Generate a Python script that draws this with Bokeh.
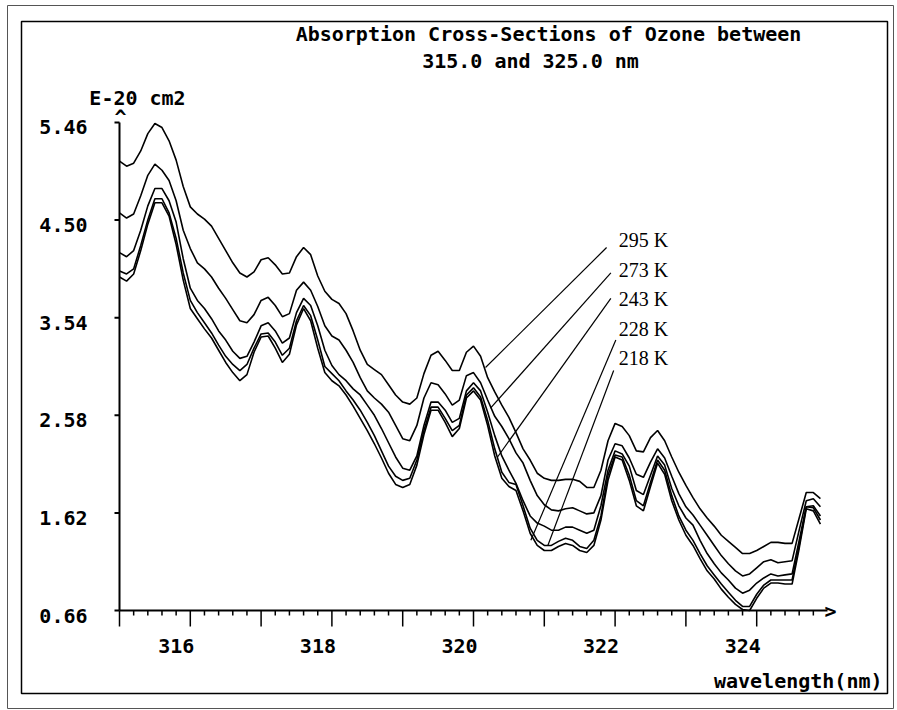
from bokeh.plotting import figure
from bokeh.models import ColumnDataSource, Range1d
from bokeh.core.properties import value
from bokeh.embed import file_html
from bokeh.resources import INLINE

# ---------------- data ----------------
wavelength = [
    315.0, 315.1, 315.2, 315.3, 315.4, 315.5, 315.6, 315.7, 315.8, 315.9,
    316.0, 316.1, 316.2, 316.3, 316.4, 316.5, 316.6, 316.7, 316.8, 316.9,
    317.0, 317.1, 317.2, 317.3, 317.4, 317.5, 317.6, 317.7, 317.8, 317.9,
    318.0, 318.1, 318.2, 318.3, 318.4, 318.5, 318.6, 318.7, 318.8, 318.9,
    319.0, 319.1, 319.2, 319.3, 319.4, 319.5, 319.6, 319.7, 319.8, 319.9,
    320.0, 320.1, 320.2, 320.3, 320.4, 320.5, 320.6, 320.7, 320.8, 320.9,
    321.0, 321.1, 321.2, 321.3, 321.4, 321.5, 321.6, 321.7, 321.8, 321.9,
    322.0, 322.1, 322.2, 322.3, 322.4, 322.5, 322.6, 322.7, 322.8, 322.9,
    323.0, 323.1, 323.2, 323.3, 323.4, 323.5, 323.6, 323.7, 323.8, 323.9,
    324.0, 324.1, 324.2, 324.3, 324.4, 324.5, 324.6, 324.7, 324.8, 324.9,
]

xs_295K = [
    5.08, 5.03, 5.06, 5.18, 5.35, 5.45, 5.41, 5.28, 5.09, 4.83,
    4.63, 4.56, 4.51, 4.44, 4.32, 4.20, 4.08, 3.98, 3.94, 3.99,
    4.11, 4.13, 4.06, 3.97, 3.98, 4.14, 4.23, 4.16, 3.95, 3.80,
    3.72, 3.68, 3.58, 3.41, 3.22, 3.08, 3.03, 2.98, 2.88, 2.78,
    2.71, 2.69, 2.75, 2.99, 3.17, 3.21, 3.12, 3.02, 3.02, 3.20,
    3.26, 3.16, 2.95, 2.81, 2.68, 2.56, 2.41, 2.25, 2.14, 2.01,
    1.96, 1.94, 1.94, 1.95, 1.95, 1.93, 1.87, 1.87, 2.04, 2.33,
    2.50, 2.47, 2.38, 2.23, 2.22, 2.36, 2.43, 2.33, 2.17, 2.02,
    1.89, 1.77, 1.66, 1.57, 1.49, 1.40, 1.34, 1.28, 1.22, 1.22,
    1.25, 1.29, 1.33, 1.33, 1.32, 1.32, 1.57, 1.82, 1.82, 1.76,
]
xs_273K = [
    4.57, 4.52, 4.56, 4.74, 4.94, 5.05, 4.99, 4.89, 4.69, 4.40,
    4.22, 4.08, 4.02, 3.94, 3.83, 3.73, 3.62, 3.51, 3.49, 3.57,
    3.71, 3.74, 3.66, 3.55, 3.58, 3.81, 3.89, 3.81, 3.65, 3.46,
    3.36, 3.32, 3.22, 3.10, 2.95, 2.82, 2.75, 2.69, 2.61, 2.48,
    2.35, 2.33, 2.48, 2.75, 2.90, 2.88, 2.79, 2.68, 2.73, 2.97,
    3.00, 2.90, 2.73, 2.57, 2.47, 2.35, 2.21, 2.11, 1.94, 1.79,
    1.70, 1.65, 1.64, 1.66, 1.67, 1.64, 1.61, 1.62, 1.79, 2.14,
    2.30, 2.28, 2.16, 2.00, 1.97, 2.12, 2.25, 2.16, 1.98, 1.81,
    1.68, 1.60, 1.50, 1.40, 1.30, 1.20, 1.12, 1.05, 1.00, 1.02,
    1.08, 1.14, 1.16, 1.13, 1.14, 1.15, 1.45, 1.74, 1.76, 1.68,
]
xs_243K = [
    4.18, 4.14, 4.20, 4.40, 4.64, 4.81, 4.81, 4.69, 4.48, 4.12,
    3.83, 3.71, 3.63, 3.53, 3.41, 3.32, 3.21, 3.14, 3.16, 3.30,
    3.46, 3.49, 3.41, 3.29, 3.34, 3.59, 3.73, 3.66, 3.46, 3.22,
    3.07, 2.98, 2.92, 2.84, 2.78, 2.68, 2.58, 2.45, 2.31, 2.17,
    2.06, 2.04, 2.18, 2.48, 2.71, 2.71, 2.63, 2.51, 2.55, 2.82,
    2.90, 2.82, 2.61, 2.38, 2.18, 2.04, 1.91, 1.74, 1.59, 1.52,
    1.49, 1.45, 1.45, 1.48, 1.48, 1.45, 1.42, 1.45, 1.69, 2.04,
    2.23, 2.20, 2.08, 1.84, 1.80, 1.99, 2.18, 2.09, 1.86, 1.69,
    1.57, 1.50, 1.35, 1.22, 1.12, 1.03, 0.96, 0.88, 0.83, 0.86,
    0.93, 0.98, 1.02, 1.00, 1.01, 1.02, 1.35, 1.68, 1.69, 1.59,
]
xs_228K = [
    4.00, 3.97, 4.02, 4.25, 4.50, 4.71, 4.71, 4.57, 4.32, 3.98,
    3.71, 3.59, 3.49, 3.39, 3.27, 3.16, 3.08, 3.02, 3.08, 3.24,
    3.38, 3.39, 3.30, 3.17, 3.24, 3.51, 3.66, 3.56, 3.32, 3.06,
    2.99, 2.92, 2.82, 2.73, 2.63, 2.51, 2.38, 2.23, 2.08, 1.98,
    1.94, 1.96, 2.14, 2.43, 2.66, 2.66, 2.55, 2.43, 2.48, 2.78,
    2.85, 2.76, 2.53, 2.25, 2.02, 1.92, 1.90, 1.69, 1.47, 1.35,
    1.30, 1.30, 1.34, 1.37, 1.35, 1.29, 1.27, 1.35, 1.59, 1.99,
    2.19, 2.17, 1.99, 1.74, 1.69, 1.92, 2.14, 2.04, 1.79, 1.59,
    1.45, 1.35, 1.22, 1.10, 1.01, 0.92, 0.84, 0.76, 0.70, 0.70,
    0.82, 0.91, 0.96, 0.96, 0.96, 0.96, 1.30, 1.68, 1.67, 1.55,
]
xs_218K = [
    3.94, 3.90, 3.97, 4.20, 4.46, 4.67, 4.67, 4.54, 4.26, 3.91,
    3.63, 3.53, 3.43, 3.34, 3.22, 3.10, 3.00, 2.92, 2.98, 3.20,
    3.35, 3.36, 3.24, 3.10, 3.18, 3.47, 3.63, 3.51, 3.24, 3.00,
    2.92, 2.87, 2.78, 2.67, 2.55, 2.43, 2.30, 2.16, 2.01, 1.90,
    1.87, 1.90, 2.09, 2.39, 2.63, 2.63, 2.51, 2.37, 2.45, 2.75,
    2.82, 2.73, 2.48, 2.18, 1.96, 1.88, 1.84, 1.64, 1.42, 1.30,
    1.25, 1.25, 1.29, 1.32, 1.30, 1.25, 1.23, 1.30, 1.55, 1.94,
    2.17, 2.14, 1.94, 1.69, 1.64, 1.88, 2.11, 2.00, 1.74, 1.55,
    1.40, 1.30, 1.17, 1.05, 0.97, 0.87, 0.79, 0.72, 0.67, 0.66,
    0.78, 0.88, 0.93, 0.93, 0.92, 0.92, 1.27, 1.66, 1.64, 1.51,
]

temperatures = ["295 K", "273 K", "243 K", "228 K", "218 K"]
label_x = [322.05, 322.05, 322.05, 322.05, 322.05]
label_y = [4.30, 4.01, 3.72, 3.43, 3.14]
lead_x0 = [321.88, 321.94, 321.94, 322.01, 321.98]
lead_y0 = [4.23, 3.98, 3.73, 3.32, 3.02]
lead_x1 = [320.17, 320.24, 320.34, 320.81, 321.05]
lead_y1 = [3.05, 2.65, 2.17, 1.35, 1.30]

y_ticks = [0.66, 1.62, 2.58, 3.54, 4.50, 5.46]
y_tick_labels = ["0.66", "1.62", "2.58", "3.54", "4.50", "5.46"]
x_major = [315, 316, 317, 318, 319, 320, 321, 322, 323, 324]
x_minor = [round(315 + 0.2 * i, 1) for i in range(1, 50) if i % 5]
x_label_pos = [316, 318, 320, 322, 324]
x_tick_labels = ["316", "318", "320", "322", "324"]
x_end = 325

title_1 = "Absorption Cross-Sections of Ozone between"
title_2 = "315.0 and 325.0 nm"
y_unit = "E-20 cm2"
x_title = "wavelength(nm)"

# ---------------- layout / style ----------------
W, H = 896, 709
XPX = 70.8        # pixels per nm
YPX = 101.67      # pixels per 1e-20 cm2
ORIGIN_PX = (119, 610)
X0, Y0 = x_major[0], y_ticks[0]


def px2x(px):
    return X0 + (px - ORIGIN_PX[0]) / XPX


def py2y(py):
    return Y0 + (ORIGIN_PX[1] - py) / YPX


MONO = value("DejaVu Sans Mono")
FS = "20px"

p = figure(width=W, height=H, x_range=Range1d(px2x(0), px2x(W)),
           y_range=Range1d(py2y(H), py2y(0)), x_axis_type=None, y_axis_type=None,
           toolbar_location=None, output_backend="svg", title=None, min_border=0)
p.outline_line_color = None
p.background_fill_color = "white"
p.border_fill_color = "white"

# page frames
p.quad(left=[px2x(7)], right=[px2x(893)], top=[py2y(5)], bottom=[py2y(708)],
       fill_alpha=0, line_color="#555555", line_width=1)
p.quad(left=[px2x(21)], right=[px2x(887)], top=[py2y(21)], bottom=[py2y(693)],
       fill_alpha=0, line_color="black", line_width=1.5)

# y axis
p.segment(x0=[X0], y0=[y_ticks[0]], x1=[X0], y1=[y_ticks[-1]], line_color="black", line_width=2)
p.segment(x0=[X0 - 5 / XPX] * len(y_ticks), y0=y_ticks, x1=[X0] * len(y_ticks), y1=y_ticks,
          line_color="black", line_width=2)
p.text(x=[X0 - 32 / XPX] * len(y_ticks), y=[t - 5 / YPX for t in y_ticks], text=y_tick_labels,
       text_font=MONO, text_font_style="bold", text_font_size=FS,
       text_align="right", text_baseline="middle", text_color="black")
p.text(x=[X0 + 1 / XPX], y=[y_ticks[-1] + 5 / YPX], text=["^"],
       text_font=MONO, text_font_style="bold", text_font_size=FS,
       text_align="center", text_baseline="middle", text_color="black")

# x axis
p.segment(x0=[X0], y0=[Y0], x1=[x_end], y1=[Y0], line_color="black", line_width=2)
p.segment(x0=x_major, y0=[Y0] * len(x_major), x1=x_major, y1=[Y0 - 16 / YPX] * len(x_major),
          line_color="black", line_width=1.5)
p.segment(x0=x_minor, y0=[Y0] * len(x_minor), x1=x_minor, y1=[Y0 - 5 / YPX] * len(x_minor),
          line_color="black", line_width=1.5)
p.text(x=[t - 14 / XPX for t in x_label_pos], y=[Y0 - 35 / YPX] * len(x_label_pos),
       text=x_tick_labels, text_font=MONO, text_font_style="bold", text_font_size=FS,
       text_align="center", text_baseline="middle", text_color="black")
p.text(x=[x_end + 3 / XPX], y=[Y0], text=[">"],
       text_font=MONO, text_font_style="bold", text_font_size=FS,
       text_align="center", text_baseline="middle", text_color="black")

# titles
p.text(x=[px2x(548), px2x(530)], y=[py2y(33), py2y(60)], text=[title_1, title_2],
       text_font=MONO, text_font_style="bold", text_font_size=FS,
       text_align="center", text_baseline="middle", text_color="black")
p.text(x=[px2x(137)], y=[py2y(97)], text=[y_unit],
       text_font=MONO, text_font_style="bold", text_font_size=FS,
       text_align="center", text_baseline="middle", text_color="black")
p.text(x=[px2x(882)], y=[py2y(680)], text=[x_title],
       text_font=MONO, text_font_style="bold", text_font_size=FS,
       text_align="right", text_baseline="middle", text_color="black")

# curves
for series in (xs_295K, xs_273K, xs_243K, xs_228K, xs_218K):
    src = ColumnDataSource(dict(x=wavelength, y=series))
    p.line("x", "y", source=src, line_color="black", line_width=1.6)

# leader lines and temperature labels
p.segment(x0=lead_x0, y0=lead_y0, x1=lead_x1, y1=lead_y1, line_color="black", line_width=1.2)
p.text(x=label_x, y=label_y, text=temperatures, text_font=value("Liberation Serif"),
       text_font_size="20px", text_align="left", text_baseline="middle", text_color="black")

open("out.html", "w").write(file_html(p, INLINE))
